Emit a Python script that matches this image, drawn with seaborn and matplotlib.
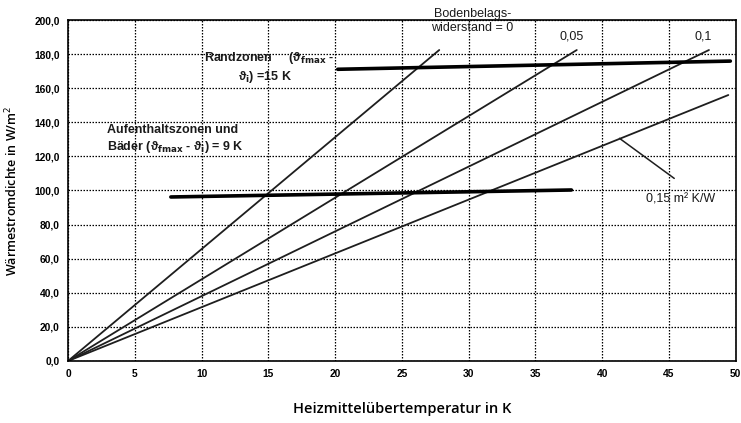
import seaborn as sns
import matplotlib.pyplot as plt
from matplotlib.ticker import MultipleLocator, FuncFormatter
import pandas as pd

# Kennlinien: Bodenbelagswiderstand -> Endpunkt der Geraden (Start bei 0/0)
widerstand = ["0", "0,05", "0,1", "0,15"]
end_temp = [27.8, 38.1, 48.0, 49.45]
end_q = [182.4, 182.4, 182.4, 156.0]

# Grenzkurven (dicke Linien)
rand_temp = [20.2, 49.6]
rand_q = [171.1, 175.9]
aufenthalt_temp = [7.7, 37.7]
aufenthalt_q = [96.2, 100.3]

# Hinweislinie zu 0,15
pointer_temp = [41.3, 45.4]
pointer_q = [130.6, 107.1]

sns.set_style("white")
plt.rcParams['font.family'] = ['Liberation Sans', 'DejaVu Sans']
plt.rcParams['mathtext.fontset'] = 'dejavusans'
plt.rcParams['text.color'] = 'black'
plt.rcParams['axes.labelcolor'] = 'black'
plt.rcParams['xtick.color'] = 'black'
plt.rcParams['ytick.color'] = 'black'

fig = plt.figure(figsize=(7.41, 4.23), dpi=100)
ax = fig.add_axes([0.0918, 0.1466, 0.9010, 0.8061])

rows = []
for name, xe, ye in zip(widerstand, end_temp, end_q):
    rows.append({'R': name, 'dT': 0.0, 'q': 0.0})
    rows.append({'R': name, 'dT': xe, 'q': ye})
data = pd.DataFrame(rows)
sns.lineplot(data=data, x='dT', y='q', units='R', estimator=None,
             color='#1e1e1e', lw=1.3, ax=ax)

sns.lineplot(x=rand_temp, y=rand_q, color='black', lw=2.6, ax=ax)
sns.lineplot(x=aufenthalt_temp, y=aufenthalt_q, color='black', lw=2.6, ax=ax)
sns.lineplot(x=pointer_temp, y=pointer_q, color='#1e1e1e', lw=1.1, ax=ax)

ax.set_xlim(0, 50)
ax.set_ylim(0, 200)
ax.xaxis.set_major_locator(MultipleLocator(5))
ax.xaxis.set_minor_locator(MultipleLocator(1))
ax.yaxis.set_major_locator(MultipleLocator(20))
ax.yaxis.set_minor_locator(MultipleLocator(4))
ax.yaxis.set_major_formatter(FuncFormatter(lambda v, p: f"{v:.1f}".replace('.', ',')))
ax.tick_params(which='major', direction='out', length=4, width=1, labelsize=7.4, pad=2)
ax.tick_params(which='minor', direction='out', length=2.5, width=1)
for lab in ax.get_xticklabels() + ax.get_yticklabels():
    lab.set_fontweight('bold')
ax.grid(True, which='major', color='black', linestyle=(0, (1.2, 1.2)), lw=0.9)
for s in ax.spines.values():
    s.set_color('black')
    s.set_linewidth(1.2)

ax.set_xlabel("Heizmittelübertemperatur in K", fontsize=10.5, fontweight='semibold',
              family=['Open Sans', 'DejaVu Sans'], labelpad=16)
ax.set_ylabel("Wärmestromdichte in W/m$^2$", fontsize=9, fontweight='semibold',
              family=['Open Sans', 'DejaVu Sans'], labelpad=10)

txt = dict(color='#1a1a1a', fontsize=9)
ax.text(30.3, 199.5, "Bodenbelags-\nwiderstand = 0", ha='center', va='center',
        linespacing=1.3, clip_on=False, **txt)
ax.text(37.7, 190.6, "0,05", ha='center', va='center', **txt)
ax.text(47.6, 190.6, "0,1", ha='center', va='center', **txt)
ax.text(45.9, 95, "0,15 m² K/W", ha='center', va='center', **txt)

bold = dict(color='#1a1a1a', fontsize=9, fontweight='bold')
ax.text(10.2, 177.7, r"Randzonen     (ϑ$_{\mathbf{fmax}}$ -", ha='left', va='center', **bold)
ax.text(12.7, 166.6, r"ϑ$_{\mathbf{i}}$) =15 K", ha='left', va='center', **bold)
ax.text(2.9, 135.5, "Aufenthaltszonen und", ha='left', va='center', **bold)
ax.text(2.9, 125.5, r"Bäder (ϑ$_{\mathbf{fmax}}$ - ϑ$_{\mathbf{i}}$) = 9 K",
        ha='left', va='center', **bold)

fig.savefig("out.png", dpi=100)
